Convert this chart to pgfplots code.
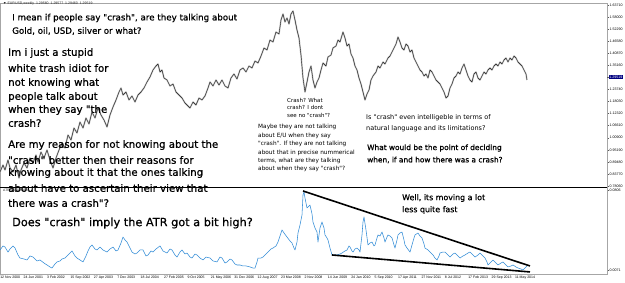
\documentclass[border=0pt]{standalone}
\usepackage{pgfplots}
\pgfplotsset{compat=1.18}
\usepackage{fontspec}
\newfontfamily\ann{DejaVu Sans}
\newfontfamily\annb{DejaVu Sans}[FakeBold=0.8]
\newfontfamily\tickfont{Liberation Sans}
\definecolor{atrblue}{RGB}{50,140,215}
\definecolor{mtnavy}{RGB}{0,0,128}
\newcommand\T[4]{\node[anchor=west,inner sep=0pt] at (#1,#2) {\ann\fontsize{#3}{#3}\selectfont #4};}
\newcommand\B[4]{\node[anchor=west,inner sep=0pt] at (#1,#2) {\annb\fontsize{#3}{#3}\selectfont #4};}

\pgfplotstableread{
x p
0 0.8470
3 0.8801
5 0.8565
8 0.9038
10 0.8660
13 0.8470
16 0.8801
19 0.8187
21 0.8565
24 0.8896
27 0.8660
30 0.9133
33 0.8896
36 0.9274
38 0.8943
41 0.9416
44 0.9133
47 0.9511
50 0.9038
53 0.8660
56 0.9133
59 0.9511
62 0.9842
65 0.9606
68 1.0220
71 0.9984
74 1.0552
77 1.0315
80 1.0835
83 1.0552
86 1.1025
89 1.0741
92 1.1308
95 1.1025
98 1.1498
101 1.1166
104 1.0930
107 1.0599
110 1.1166
113 1.1545
116 1.1876
119 1.2254
121 1.2444
123 1.2112
126 1.2254
129 1.1876
132 1.2065
135 1.1781
138 1.2112
141 1.2254
144 1.2444
147 1.2727
150 1.2964
153 1.3295
156 1.3484
158 1.3579
160 1.3200
162 1.3295
164 1.2917
167 1.2822
170 1.2538
173 1.2633
176 1.2254
179 1.2112
182 1.1971
185 1.1734
188 1.1592
190 1.1498
193 1.1781
196 1.1639
199 1.1971
202 1.1876
205 1.2065
208 1.2444
210 1.2727
213 1.2538
216 1.2822
219 1.2585
222 1.2822
225 1.2538
228 1.2444
231 1.2917
234 1.3106
237 1.2869
240 1.3295
243 1.3390
246 1.3200
249 1.3484
252 1.3390
255 1.3721
258 1.3626
261 1.3957
264 1.4336
267 1.4241
270 1.4714
273 1.4619
276 1.5092
279 1.4998
281 1.5660
283 1.5944
285 1.5565
287 1.5755
289 1.5471
291 1.5944
293 1.6086
295 1.5660
297 1.5187
299 1.4809
301 1.4004
303 1.2917
305 1.2254
307 1.2727
309 1.3200
311 1.3484
313 1.2822
315 1.2444
317 1.2727
319 1.2917
321 1.3295
323 1.3626
326 1.3484
328 1.3910
331 1.4004
333 1.4336
336 1.4430
338 1.4714
340 1.4619
343 1.5092
345 1.4809
347 1.4430
349 1.4525
351 1.4052
353 1.3863
355 1.3484
357 1.3295
359 1.2917
361 1.2633
363 1.2254
365 1.1876
367 1.2160
369 1.2349
371 1.2822
373 1.3011
376 1.3200
378 1.3484
380 1.3390
383 1.3673
385 1.3579
388 1.3863
390 1.3957
392 1.4146
394 1.4336
396 1.4525
398 1.4856
400 1.4619
402 1.4336
404 1.4241
406 1.4525
408 1.4430
410 1.4146
412 1.4241
414 1.3863
416 1.3673
418 1.3484
420 1.3295
422 1.3200
424 1.3011
426 1.3106
428 1.2917
430 1.3295
432 1.3200
434 1.3011
436 1.2822
438 1.2727
440 1.2633
442 1.2444
444 1.2254
446 1.1971
448 1.2065
450 1.2444
452 1.2633
454 1.2917
456 1.3011
458 1.3200
460 1.3106
462 1.3390
464 1.3579
466 1.3295
468 1.3011
470 1.2822
472 1.2727
474 1.3106
476 1.3200
478 1.2917
480 1.2822
482 1.3011
484 1.3200
486 1.3106
488 1.3295
490 1.3390
492 1.3295
494 1.3484
496 1.3579
498 1.3484
500 1.3673
502 1.3579
504 1.3768
506 1.3863
508 1.3673
510 1.3863
512 1.3768
514 1.3957
516 1.3863
518 1.3673
520 1.3579
522 1.3484
524 1.3295
526 1.3106
527 1.2822
}\pricetable

\pgfplotstableread{
x a
0 0.0255
3 0.0292
5 0.0282
8 0.0236
10 0.0264
13 0.0292
15 0.0273
18 0.0209
20 0.0181
24 0.0172
27 0.0163
30 0.0200
33 0.0190
37 0.0154
40 0.0163
44 0.0135
47 0.0117
50 0.0099
52 0.0089
55 0.0126
57 0.0145
60 0.0154
62 0.0172
65 0.0181
67 0.0200
70 0.0227
72 0.0246
75 0.0200
77 0.0181
80 0.0163
83 0.0145
86 0.0200
88 0.0246
90 0.0282
92 0.0301
95 0.0264
97 0.0255
100 0.0282
103 0.0255
107 0.0236
110 0.0264
113 0.0282
116 0.0246
118 0.0255
121 0.0319
123 0.0374
125 0.0347
127 0.0328
130 0.0273
132 0.0236
135 0.0218
137 0.0227
140 0.0255
143 0.0255
146 0.0200
148 0.0209
151 0.0246
153 0.0236
156 0.0264
160 0.0292
163 0.0246
167 0.0227
170 0.0264
172 0.0255
175 0.0209
177 0.0190
180 0.0236
182 0.0255
185 0.0218
187 0.0227
190 0.0190
192 0.0181
195 0.0218
197 0.0209
200 0.0181
203 0.0163
206 0.0190
210 0.0181
213 0.0154
217 0.0145
220 0.0190
222 0.0181
225 0.0135
227 0.0145
230 0.0172
232 0.0163
235 0.0126
237 0.0117
240 0.0117
243 0.0108
246 0.0108
250 0.0099
253 0.0089
255 0.0089
257 0.0145
258 0.0181
261 0.0181
263 0.0190
266 0.0218
268 0.0236
271 0.0264
273 0.0273
276 0.0292
278 0.0328
280 0.0383
282 0.0439
284 0.0411
287 0.0374
290 0.0338
292 0.0319
294 0.0273
295 0.0255
297 0.0328
298 0.0411
300 0.0485
302 0.0576
303 0.0760
304 0.0788
305 0.0733
307 0.0641
309 0.0659
310 0.0668
312 0.0586
313 0.0512
315 0.0457
317 0.0420
318 0.0328
320 0.0457
322 0.0512
324 0.0457
325 0.0393
327 0.0365
328 0.0347
330 0.0273
332 0.0209
335 0.0209
337 0.0209
340 0.0218
342 0.0227
345 0.0246
347 0.0255
349 0.0292
350 0.0282
352 0.0246
353 0.0236
355 0.0264
357 0.0273
359 0.0255
360 0.0236
362 0.0393
363 0.0512
364 0.0558
366 0.0439
368 0.0301
370 0.0319
372 0.0328
374 0.0292
375 0.0301
377 0.0365
378 0.0393
380 0.0383
382 0.0420
384 0.0365
385 0.0328
387 0.0374
388 0.0393
390 0.0383
392 0.0365
394 0.0301
395 0.0273
397 0.0347
398 0.0393
400 0.0411
402 0.0420
404 0.0347
405 0.0301
407 0.0273
410 0.0236
412 0.0301
414 0.0365
415 0.0393
418 0.0411
420 0.0383
422 0.0365
424 0.0310
425 0.0273
428 0.0255
430 0.0236
433 0.0209
435 0.0181
437 0.0163
439 0.0200
440 0.0227
443 0.0236
445 0.0236
448 0.0209
450 0.0190
453 0.0218
455 0.0227
458 0.0200
460 0.0181
463 0.0200
465 0.0209
468 0.0227
470 0.0236
473 0.0209
475 0.0190
478 0.0209
480 0.0227
483 0.0200
485 0.0181
487 0.0145
488 0.0117
491 0.0145
493 0.0163
496 0.0135
498 0.0117
501 0.0135
503 0.0145
506 0.0117
508 0.0099
511 0.0108
513 0.0117
516 0.0099
518 0.0089
521 0.0080
523 0.0071
525 0.0089
527 0.0108
}\atrtable

\begin{document}
\begin{tikzpicture}[x=1pt,y=1pt]
\useasboundingbox (0pt,0pt) rectangle (625pt,283pt);
\fill[white] (0pt,0pt) rectangle (625pt,283pt);
% ---------------- price panel ----------------
\begin{axis}[
  at={(0pt,96pt)}, anchor=south west,
  width=607pt, height=184pt, scale only axis,
  xmin=0, xmax=607, ymin=0.7761, ymax=1.6464,
  axis line style={gray!70, line width=0.5pt},
  xtick=\empty, scaled y ticks=false,
  ytick={0.7806,0.8377,0.8948,0.9519,1.0090,1.0661,1.1232,1.1803,1.2374,1.3516,1.4087,1.4658,1.5229,1.5800,1.6371},
  ytick pos=right, yticklabel pos=right,
  tick align=outside, major tick length=1.5pt,
  tick style={gray!70!black, line width=0.4pt},
  y tick label style={font=\tickfont\fontsize{3.6}{4}\selectfont, inner sep=0.8pt},
  /pgf/number format/fixed, /pgf/number format/fixed zerofill,
  /pgf/number format/precision=5, /pgf/number format/assume math mode=true,
  extra y ticks={1.29519},
  extra y tick style={y tick label style={fill=mtnavy, text=white, inner sep=0.6pt}},
]
\addplot[gray!50, line width=1.5pt, line join=round] table[x=x, y=p] {\pricetable};
\addplot[gray!25!black, line width=0.4pt, line join=round] table[x=x, y=p] {\pricetable};
\end{axis}
% ---------------- ATR panel ----------------
\begin{axis}[
  at={(0pt,9pt)}, anchor=south west,
  width=607pt, height=87pt, scale only axis,
  xmin=0, xmax=607, ymin=0.003424, ymax=0.08338,
  axis line style={gray!70, line width=0.5pt},
  scaled y ticks=false, scaled x ticks=false,
  xtick={0,23.4,46.8,70.2,93.6,117,140.4,163.8,187.2,210.6,234,257.4,280.8,304.2,327.6,351,374.4,397.8,421.2,444.6,468,491.4,514.8},
  xticklabels={12 Nov 2000,24 Jun 2001,3 Feb 2002,15 Sep 2002,27 Apr 2003,7 Dec 2003,18 Jul 2004,27 Feb 2005,9 Oct 2005,21 May 2006,31 Dec 2006,12 Aug 2007,23 Mar 2008,2 Nov 2008,14 Jun 2009,24 Jan 2010,5 Sep 2010,17 Apr 2011,27 Nov 2011,8 Jul 2012,17 Feb 2013,29 Sep 2013,11 May 2014},
  xtick pos=bottom,
  x tick label style={font=\tickfont\fontsize{3.5}{4}\selectfont, anchor=north west, inner sep=0.6pt, xshift=-0.5pt},
  ytick={0.0071,0.0806},
  ytick pos=right, yticklabel pos=right,
  tick align=outside, major tick length=1.5pt,
  tick style={gray!70!black, line width=0.4pt},
  y tick label style={font=\tickfont\fontsize{3.6}{4}\selectfont, inner sep=0.8pt},
  /pgf/number format/fixed, /pgf/number format/fixed zerofill,
  /pgf/number format/precision=4, /pgf/number format/assume math mode=true,
]
\addplot[atrblue, line width=0.55pt, line join=round] table[x=x, y=a] {\atrtable};
\addplot[black, line width=1.6pt] coordinates {(303,0.0797) (530,0.0108)};
\addplot[black, line width=1.6pt] coordinates {(332,0.0209) (530,0.0053)};
\end{axis}
\draw[black, line width=0.8pt] (0pt,96pt) -- (607pt,96pt);
% ---------------- small labels ----------------
\node[anchor=west, inner sep=0pt, gray!30!black] at (3pt,279pt) {\tickfont\fontsize{3.5}{4}\selectfont ▼ EURUSD,weekly\ \ 1.29560\ \ 1.29577\ \ 1.29460\ \ 1.29519};
\node[anchor=west, inner sep=0pt, gray!30!black] at (3pt,92pt) {\tickfont\fontsize{3.5}{4}\selectfont ATR(14) 0.0093};
% ---------------- annotations ----------------
\B{12}{265}{8.7}{I mean if people say "crash", are they talking about}
\B{12}{252}{8.7}{Gold, oil, USD, silver or what?}
\B{8}{230}{10.2}{Im i just a stupid}
\B{8}{215}{10.2}{white trash idiot for}
\B{8}{200}{10.2}{not knowing what}
\B{8}{186}{10.2}{people talk about}
\B{8}{173}{10.2}{when they say "the}
\B{8}{160}{10.2}{crash?}
\B{8}{138}{10.2}{Are my reason for not knowing about the}
\B{8}{123}{10.2}{"crash" better then their reasons for}
\B{8}{110}{10.2}{knowing about it that the ones talking}
\B{8}{95}{10.2}{about have to ascertain their view that}
\B{8}{80}{10.2}{there was a crash"?}
\B{12}{60}{11.3}{Does "crash" imply the ATR got a bit high?}
\T{287}{183}{5.5}{Crash? What}
\T{287}{176}{5.5}{crash? I dont}
\T{287}{168}{5.5}{see no "crash"?}
\T{258}{156}{5.8}{Maybe they are not talking}
\T{258}{147}{5.8}{about E/U when they say}
\T{258}{139}{5.8}{"crash". If they are not talking}
\T{258}{130}{5.8}{about that in precise nummerical}
\T{258}{122}{5.8}{terms, what are they talking}
\T{258}{114}{5.8}{about when they say "crash"?}
\T{366}{165}{6.5}{Is "crash" even intelligeble in terms of}
\T{366}{154}{6.5}{natural language and its limitations?}
\B{367}{135}{7.4}{What would be the point of deciding}
\B{367}{123}{7.4}{when, if and how there was a crash?}
\B{402}{85}{7.9}{Well, its moving a lot}
\B{402}{73}{7.9}{less quite fast}
\end{tikzpicture}
\end{document}
